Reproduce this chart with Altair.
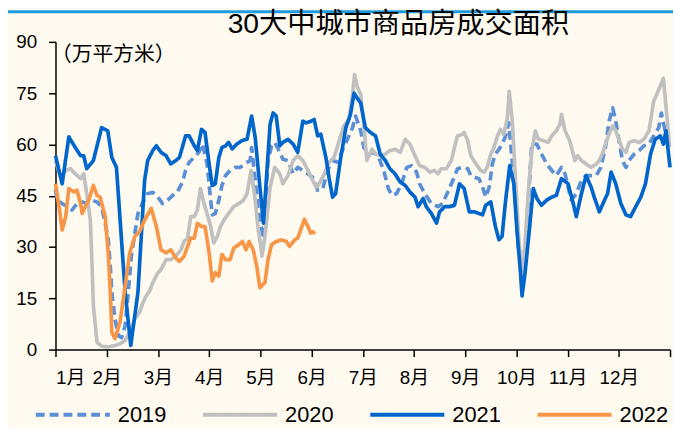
import altair as alt
import pandas as pd

years = ["2019", "2020", "2021", "2022"]
colors = ["#5B8FD6", "#C0C0C0", "#0066CC", "#F79646"]
dashes = [[9, 5], [1, 0], [1, 0], [1, 0]]
month_ticks = list(range(13))
value_ticks = [0, 15, 30, 45, 60, 75, 90]

# (month position, 万平方米)
s2019 = [(0.00, 47.0), (0.03, 43.7), (0.13, 42.7), (0.23, 41.8), (0.32, 40.8), (0.42, 42.7), (0.52, 43.2), (0.61, 42.7), (0.71, 43.7), (0.81, 43.2),
         (0.90, 41.8), (0.97, 37.0), (1.03, 32.1), (1.07, 24.4), (1.10, 16.7), (1.16, 9.0), (1.23, 4.0), (1.29, 3.5), (1.36, 7.0), (1.42, 16.7),
         (1.48, 27.3), (1.55, 34.1), (1.61, 39.8), (1.71, 43.2), (1.80, 45.6), (1.90, 46.0), (2.00, 44.6), (2.09, 42.7), (2.19, 43.7), (2.29, 45.1),
         (2.38, 46.1), (2.48, 49.0), (2.54, 52.4), (2.61, 54.8), (2.71, 56.2), (2.80, 57.7), (2.87, 60.1), (2.96, 54.3), (3.03, 43.7), (3.06, 39.4),
         (3.12, 39.8), (3.19, 43.7), (3.25, 48.0), (3.32, 50.9), (3.41, 52.4), (3.51, 53.3), (3.61, 53.3), (3.70, 54.3), (3.80, 55.3), (3.83, 59.1),
         (3.90, 49.5), (3.96, 40.8), (4.06, 32.5), (4.15, 55.3), (4.22, 59.6), (4.28, 60.6), (4.35, 58.6), (4.44, 55.7), (4.54, 55.3), (4.64, 51.4),
         (4.73, 53.3), (4.83, 52.4), (4.93, 51.4), (5.02, 50.4), (5.12, 46.6), (5.22, 47.1), (5.31, 52.4), (5.41, 55.3), (5.51, 54.8), (5.60, 58.2),
         (5.70, 61.5), (5.80, 64.9), (5.86, 68.3), (5.96, 64.0), (6.02, 59.1), (6.12, 57.2), (6.21, 57.7), (6.31, 56.2), (6.41, 52.4), (6.50, 47.1),
         (6.57, 45.1), (6.66, 45.6), (6.77, 49.0), (6.86, 53.3), (6.95, 53.8), (7.05, 51.9), (7.11, 48.5), (7.21, 45.6), (7.34, 42.7), (7.47, 41.8),
         (7.56, 42.7), (7.66, 46.1), (7.76, 49.5), (7.85, 52.9), (7.95, 53.3), (8.05, 52.9), (8.11, 50.9), (8.18, 50.4), (8.27, 50.0), (8.34, 47.5),
         (8.40, 44.6), (8.47, 47.5), (8.53, 54.3), (8.59, 57.2), (8.66, 58.6), (8.72, 60.1), (8.79, 62.5), (8.85, 66.3), (8.95, 50.0), (9.04, 30.0),
         (9.11, 24.0), (9.17, 30.0), (9.24, 45.0), (9.30, 60.1), (9.40, 60.1), (9.49, 57.2), (9.59, 54.3), (9.69, 52.4), (9.78, 50.9), (9.88, 53.3),
         (9.95, 51.4), (10.07, 43.7), (10.17, 45.6), (10.27, 49.5), (10.36, 50.9), (10.46, 50.9), (10.56, 50.9), (10.65, 53.3), (10.75, 60.1), (10.81, 66.8),
         (10.88, 70.7), (10.94, 66.8), (11.01, 60.6), (11.07, 55.3), (11.14, 53.3), (11.20, 55.3), (11.30, 57.2), (11.40, 58.2), (11.49, 59.6), (11.59, 60.1),
         (11.68, 62.5), (11.78, 64.9), (11.83, 69.2), (11.89, 64.9), (11.95, 61.1)]

s2020 = [(0.00, 55.3), (0.10, 50.4), (0.20, 52.4), (0.29, 52.9), (0.39, 51.4), (0.49, 50.0), (0.55, 51.4), (0.61, 45.6), (0.68, 37.9), (0.71, 26.3),
         (0.74, 12.8), (0.81, 2.2), (0.90, 1.0), (1.03, 0.8), (1.16, 1.2), (1.26, 1.7), (1.36, 2.7), (1.45, 5.1), (1.55, 9.0), (1.64, 10.9),
         (1.71, 13.8), (1.77, 15.7), (1.84, 17.2), (1.90, 19.6), (2.00, 22.5), (2.06, 23.4), (2.16, 26.3), (2.25, 26.3), (2.35, 27.3), (2.45, 29.2),
         (2.51, 31.6), (2.58, 32.6), (2.64, 38.9), (2.71, 38.9), (2.77, 40.8), (2.83, 47.1), (2.90, 42.7), (2.96, 39.8), (3.03, 36.0), (3.09, 31.2),
         (3.16, 33.1), (3.22, 36.0), (3.29, 37.9), (3.38, 39.8), (3.48, 41.8), (3.58, 42.7), (3.67, 43.7), (3.74, 45.6), (3.82, 52.4), (3.90, 43.7),
         (3.96, 35.0), (4.01, 30.2), (4.03, 27.3), (4.09, 33.1), (4.19, 47.5), (4.28, 53.3), (4.38, 51.4), (4.44, 48.5), (4.54, 50.9), (4.64, 55.3),
         (4.73, 56.7), (4.83, 55.3), (4.93, 52.4), (5.02, 49.5), (5.09, 47.5), (5.15, 48.5), (5.25, 51.4), (5.34, 54.8), (5.44, 56.2), (5.54, 61.1),
         (5.63, 65.4), (5.73, 67.3), (5.80, 74.6), (5.84, 80.4), (5.89, 77.0), (5.96, 74.6), (6.02, 65.9), (6.08, 55.3), (6.18, 58.6), (6.25, 57.2),
         (6.34, 56.7), (6.44, 57.2), (6.53, 58.2), (6.63, 58.6), (6.73, 57.7), (6.83, 61.5), (6.92, 60.1), (7.02, 56.7), (7.11, 53.8), (7.21, 53.3),
         (7.31, 51.9), (7.40, 52.4), (7.47, 51.4), (7.53, 52.9), (7.63, 52.9), (7.73, 55.3), (7.79, 59.1), (7.85, 62.5), (7.95, 63.0), (7.98, 63.5),
         (8.05, 61.1), (8.11, 56.7), (8.21, 54.3), (8.30, 52.4), (8.37, 51.9), (8.43, 53.3), (8.50, 57.2), (8.56, 59.1), (8.63, 62.5), (8.69, 64.4),
         (8.75, 63.0), (8.82, 67.3), (8.86, 75.5), (8.92, 66.8), (8.98, 50.4), (9.04, 34.1), (9.11, 20.0), (9.17, 31.2), (9.24, 47.5), (9.30, 58.2),
         (9.37, 64.0), (9.43, 61.5), (9.53, 61.1), (9.62, 60.6), (9.69, 62.5), (9.78, 64.0), (9.85, 65.9), (9.88, 68.8), (9.95, 64.0), (10.04, 61.1),
         (10.11, 57.2), (10.14, 55.3), (10.20, 56.7), (10.27, 55.3), (10.36, 54.3), (10.46, 53.3), (10.56, 54.3), (10.62, 55.3), (10.69, 57.7), (10.75, 60.6),
         (10.81, 63.0), (10.88, 65.4), (10.94, 64.0), (11.01, 61.1), (11.07, 58.6), (11.14, 57.7), (11.20, 60.6), (11.30, 61.1), (11.40, 60.6), (11.49, 61.5),
         (11.59, 64.0), (11.68, 72.6), (11.78, 76.0), (11.87, 79.4), (11.93, 69.7), (11.99, 59.1)]

s2021 = [(0.00, 56.7), (0.13, 48.5), (0.26, 62.2), (0.39, 59.0), (0.49, 56.7), (0.55, 56.7), (0.61, 52.9), (0.74, 55.3), (0.90, 64.9), (1.02, 64.0),
         (1.10, 56.2), (1.19, 53.3), (1.36, 16.8), (1.47, 1.2), (1.61, 16.8), (1.74, 49.5), (1.80, 55.3), (1.90, 58.2), (1.97, 59.6), (2.06, 57.7),
         (2.16, 56.7), (2.25, 54.3), (2.35, 55.3), (2.42, 56.2), (2.54, 62.5), (2.61, 62.5), (2.71, 59.6), (2.77, 58.2), (2.85, 64.4), (2.92, 63.5),
         (3.00, 54.3), (3.06, 48.0), (3.12, 48.5), (3.19, 56.2), (3.25, 59.1), (3.32, 59.6), (3.38, 60.6), (3.45, 58.7), (3.54, 60.1), (3.64, 61.1),
         (3.74, 61.5), (3.83, 68.3), (3.90, 62.0), (3.96, 52.4), (4.06, 37.0), (4.19, 65.9), (4.25, 69.2), (4.31, 68.3), (4.38, 59.6), (4.44, 60.6),
         (4.54, 61.5), (4.64, 60.1), (4.73, 57.7), (4.83, 66.8), (4.89, 66.3), (4.99, 66.8), (5.05, 67.3), (5.12, 62.5), (5.18, 63.0), (5.28, 56.2),
         (5.34, 50.4), (5.41, 44.6), (5.47, 45.6), (5.57, 56.2), (5.67, 64.9), (5.76, 68.8), (5.83, 75.0), (5.89, 73.6), (5.96, 72.1), (6.05, 64.9),
         (6.15, 63.5), (6.25, 62.5), (6.34, 57.2), (6.44, 55.3), (6.53, 52.9), (6.63, 51.4), (6.73, 49.0), (6.83, 48.0), (6.92, 46.1), (7.02, 44.6),
         (7.08, 41.8), (7.18, 44.2), (7.24, 41.8), (7.34, 39.8), (7.44, 37.0), (7.50, 40.3), (7.60, 41.8), (7.69, 41.8), (7.79, 42.2), (7.89, 48.5),
         (7.98, 47.1), (8.08, 40.3), (8.18, 40.3), (8.27, 39.8), (8.34, 39.4), (8.40, 42.2), (8.50, 43.2), (8.59, 36.0), (8.66, 32.1), (8.72, 33.1),
         (8.79, 43.7), (8.87, 53.8), (8.95, 48.5), (9.01, 35.0), (9.08, 22.5), (9.11, 15.7), (9.17, 22.5), (9.24, 33.1), (9.33, 47.1), (9.40, 44.2),
         (9.49, 42.2), (9.59, 43.7), (9.69, 44.6), (9.78, 45.1), (9.88, 50.0), (10.01, 48.5), (10.11, 42.7), (10.17, 38.9), (10.27, 45.6), (10.36, 50.9),
         (10.46, 47.5), (10.52, 44.6), (10.62, 40.3), (10.72, 43.7), (10.78, 45.6), (10.85, 51.9), (10.94, 48.5), (11.04, 42.7), (11.14, 39.4), (11.23, 38.9),
         (11.33, 41.8), (11.43, 44.6), (11.52, 48.5), (11.62, 57.2), (11.71, 61.5), (11.81, 62.5), (11.87, 60.1), (11.92, 64.0), (12.00, 53.3)]

s2022 = [(0.00, 48.5), (0.07, 41.8), (0.13, 35.0), (0.20, 38.9), (0.26, 47.1), (0.36, 46.1), (0.42, 46.6), (0.49, 42.7), (0.52, 39.8), (0.58, 41.8),
         (0.65, 43.7), (0.74, 48.0), (0.81, 45.1), (0.87, 44.6), (0.97, 38.9), (1.03, 28.3), (1.07, 16.7), (1.10, 5.1), (1.16, 3.2), (1.26, 8.0),
         (1.36, 18.6), (1.45, 28.3), (1.55, 33.1), (1.64, 34.5), (1.74, 37.9), (1.87, 41.3), (1.97, 36.0), (2.06, 29.2), (2.16, 28.3), (2.25, 29.2),
         (2.35, 26.8), (2.42, 25.8), (2.51, 27.3), (2.58, 30.2), (2.64, 32.6), (2.71, 32.6), (2.77, 36.9), (2.85, 36.0), (2.92, 36.0), (3.00, 28.3),
         (3.06, 20.1), (3.12, 22.5), (3.19, 21.5), (3.25, 27.8), (3.32, 26.3), (3.41, 26.3), (3.48, 29.7), (3.58, 30.7), (3.65, 31.6), (3.72, 29.2),
         (3.78, 31.6), (3.86, 29.2), (3.93, 24.4), (3.99, 18.1), (4.09, 19.6), (4.15, 26.3), (4.22, 30.7), (4.31, 31.6), (4.41, 32.1), (4.51, 31.6),
         (4.57, 30.2), (4.67, 32.1), (4.73, 32.6), (4.80, 35.5), (4.86, 38.1), (4.93, 36.0), (4.98, 34.1), (5.02, 34.5), (5.07, 33.9)]

rows = []
for yr, series in zip(years, [s2019, s2020, s2021, s2022]):
    for m, v in series:
        rows.append({"year": yr, "m": m, "v": v})
df = pd.DataFrame(rows)

FONT = "Liberation Sans, Noto Sans CJK SC"

legend = alt.Legend(
    title=None, orient="none", direction="horizontal", legendX=-22, legendY=337,
    symbolType="stroke", symbolSize=5600, symbolStrokeWidth=4,
    labelFontSize=22, labelFont=FONT, labelColor="black", labelOffset=6,
    columnPadding=29, padding=0,
)

lines = alt.Chart(df).mark_line(strokeWidth=3.7, strokeJoin="round").encode(
    x=alt.X("m:Q", scale=alt.Scale(domain=[0, 12], nice=False, zero=False),
            axis=alt.Axis(values=month_ticks, title=None, grid=False,
                          labelExpr="datum.value < 12 ? (datum.value + 1) + '月' : ''",
                          labelAngle=0, labelPadding=12)),
    y=alt.Y("v:Q", scale=alt.Scale(domain=[0, 90], nice=False),
            axis=alt.Axis(values=value_ticks, title="（万平方米）", grid=False,
                          titleAngle=0, titleAlign="left", titleBaseline="top",
                          titleX=-5, titleY=2, titleFontSize=21, titleFont="Noto Sans CJK SC",
                          titleFontWeight="normal", titleColor="black", labelPadding=12)),
    color=alt.Color("year:N", scale=alt.Scale(domain=years, range=colors), legend=legend),
    strokeDash=alt.StrokeDash("year:N", scale=alt.Scale(domain=years, range=dashes), legend=legend),
)

top_rule = alt.Chart(pd.DataFrame({"k": [0]})).mark_rule(color="#1E9BDE", strokeWidth=3).encode(
    x=alt.value(-48), x2=alt.value(624), y=alt.value(-30.5)
)

chart = alt.layer(top_rule, lines).properties(
    width=621, height=311,
    autosize=alt.AutoSizeParams(type="none"),
    padding={"left": 48, "top": 32, "right": 3, "bottom": 77},
    title=alt.TitleParams(text="30大中城市商品房成交面积", fontSize=28.5, font=FONT,
                          fontWeight="normal", color="black", anchor="middle",
                          frame="group", dx=36, dy=35, offset=6),
).configure(
    background="#FFFAEF",
).configure_view(
    stroke=None,
).configure_axis(
    domainColor="black", domainWidth=1.5, tickColor="black", tickWidth=1.5, tickSize=7,
    labelColor="black", labelFont=FONT, labelFontSize=19,
)

chart.save("out.html", embed_options={"renderer": "svg", "actions": False})
